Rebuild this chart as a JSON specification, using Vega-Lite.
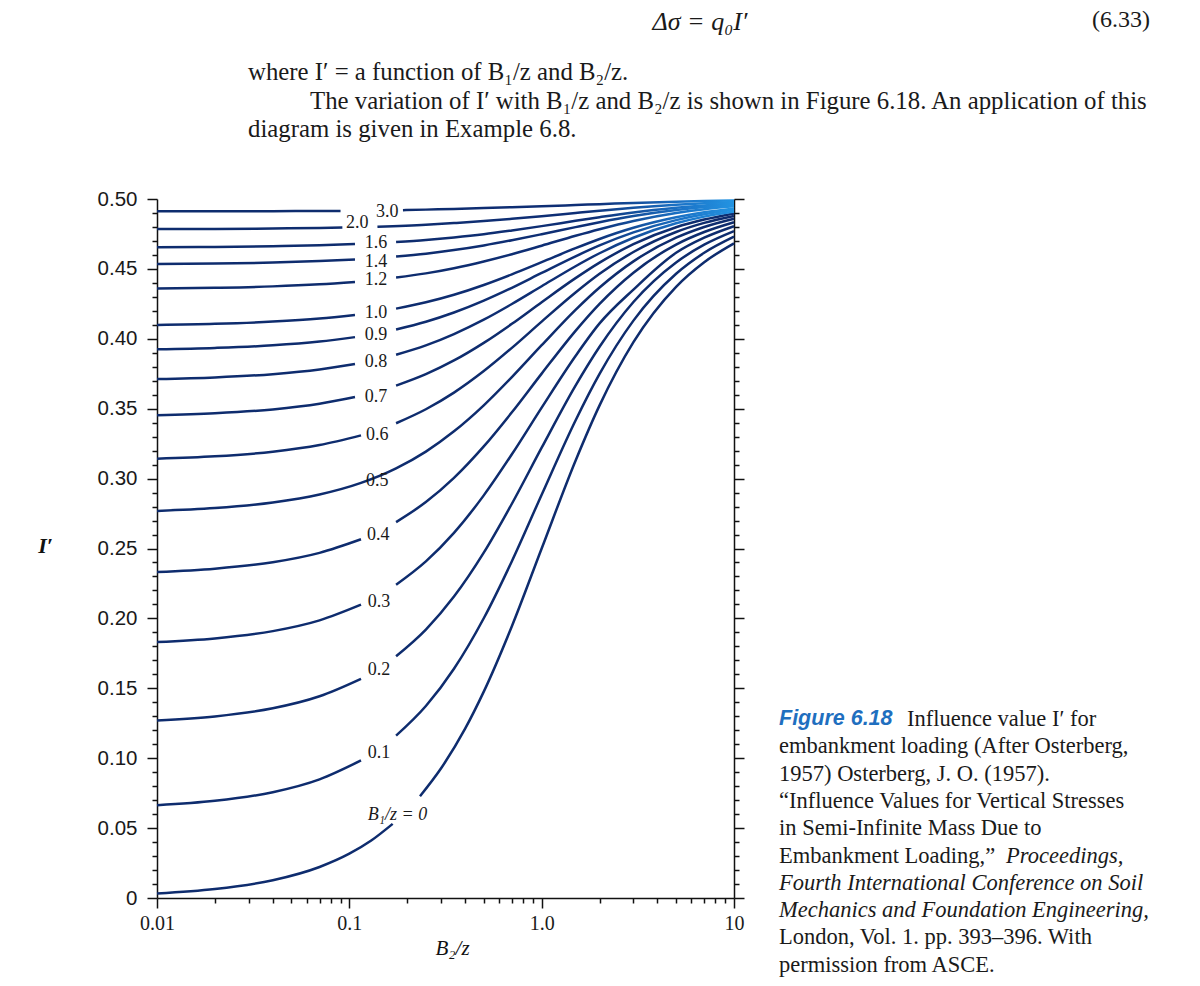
{
  "$schema": "https://vega.github.io/schema/vega-lite/v6.json",
  "width": 577,
  "height": 699,
  "autosize": {"type": "none"},
  "padding": {"left": 157, "top": 199, "right": 466, "bottom": 88},
  "background": "white",
  "config": {"view": {"stroke": null}, "axis": {"grid": false}},
  "datasets": {
    "curves": [
      {"b":"0","seg":"L","c":0.01,"I":0.0032},{"b":"0","seg":"L","c":0.02,"I":0.0064},{"b":"0","seg":"L","c":0.04,"I":0.0127},{"b":"0","seg":"L","c":0.07,"I":0.0222},{"b":"0","seg":"L","c":0.1,"I":0.0317},{"b":"0","seg":"L","c":0.13,"I":0.0411},{"b":"0","seg":"L","c":0.168,"I":0.0530},
      {"b":"0","seg":"R","c":0.233,"I":0.0728},{"b":"0","seg":"R","c":0.3,"I":0.0928},{"b":"0","seg":"R","c":0.4,"I":0.1211},{"b":"0","seg":"R","c":0.5,"I":0.1476},{"b":"0","seg":"R","c":0.7,"I":0.1944},{"b":"0","seg":"R","c":1,"I":0.25},{"b":"0","seg":"R","c":1.5,"I":0.3128},{"b":"0","seg":"R","c":2,"I":0.3524},{"b":"0","seg":"R","c":3,"I":0.3976},{"b":"0","seg":"R","c":5,"I":0.4372},{"b":"0","seg":"R","c":7,"I":0.4548},{"b":"0","seg":"R","c":10,"I":0.4683},

      {"b":"0.1","seg":"L","c":0.01,"I":0.0664},{"b":"0.1","seg":"L","c":0.02,"I":0.0695},{"b":"0.1","seg":"L","c":0.04,"I":0.0757},{"b":"0.1","seg":"L","c":0.07,"I":0.0849},{"b":"0.1","seg":"L","c":0.115,"I":0.0984},
      {"b":"0.1","seg":"R","c":0.175,"I":0.1161},{"b":"0.1","seg":"R","c":0.25,"I":0.1373},{"b":"0.1","seg":"R","c":0.35,"I":0.1640},{"b":"0.1","seg":"R","c":0.5,"I":0.2001},{"b":"0.1","seg":"R","c":0.7,"I":0.2409},{"b":"0.1","seg":"R","c":1,"I":0.2885},{"b":"0.1","seg":"R","c":1.5,"I":0.3416},{"b":"0.1","seg":"R","c":2,"I":0.3749},{"b":"0.1","seg":"R","c":3,"I":0.4130},{"b":"0.1","seg":"R","c":5,"I":0.4465},{"b":"0.1","seg":"R","c":7,"I":0.4615},{"b":"0.1","seg":"R","c":10,"I":0.4730},

      {"b":"0.2","seg":"L","c":0.01,"I":0.1270},{"b":"0.2","seg":"L","c":0.02,"I":0.1299},{"b":"0.2","seg":"L","c":0.04,"I":0.1357},{"b":"0.2","seg":"L","c":0.07,"I":0.1443},{"b":"0.2","seg":"L","c":0.115,"I":0.1568},
      {"b":"0.2","seg":"R","c":0.175,"I":0.1729},{"b":"0.2","seg":"R","c":0.25,"I":0.1920},{"b":"0.2","seg":"R","c":0.35,"I":0.2156},{"b":"0.2","seg":"R","c":0.5,"I":0.2470},{"b":"0.2","seg":"R","c":0.7,"I":0.2820},{"b":"0.2","seg":"R","c":1,"I":0.3221},{"b":"0.2","seg":"R","c":1.5,"I":0.3665},{"b":"0.2","seg":"R","c":2,"I":0.3943},{"b":"0.2","seg":"R","c":3,"I":0.4263},{"b":"0.2","seg":"R","c":5,"I":0.4546},{"b":"0.2","seg":"R","c":7,"I":0.4673},{"b":"0.2","seg":"R","c":10,"I":0.4770},

      {"b":"0.3","seg":"L","c":0.01,"I":0.1831},{"b":"0.3","seg":"L","c":0.02,"I":0.1857},{"b":"0.3","seg":"L","c":0.04,"I":0.1909},{"b":"0.3","seg":"L","c":0.07,"I":0.1986},{"b":"0.3","seg":"L","c":0.115,"I":0.2098},
      {"b":"0.3","seg":"R","c":0.175,"I":0.2241},{"b":"0.3","seg":"R","c":0.25,"I":0.2408},{"b":"0.3","seg":"R","c":0.35,"I":0.2612},{"b":"0.3","seg":"R","c":0.5,"I":0.2880},{"b":"0.3","seg":"R","c":0.7,"I":0.3174},{"b":"0.3","seg":"R","c":1,"I":0.3508},{"b":"0.3","seg":"R","c":1.5,"I":0.3877},{"b":"0.3","seg":"R","c":2,"I":0.4110},{"b":"0.3","seg":"R","c":3,"I":0.4352},{"b":"0.3","seg":"R","c":5,"I":0.4615},{"b":"0.3","seg":"R","c":7,"I":0.4723},{"b":"0.3","seg":"R","c":10,"I":0.4805},

      {"b":"0.4","seg":"L","c":0.01,"I":0.2332},{"b":"0.4","seg":"L","c":0.02,"I":0.2356},{"b":"0.4","seg":"L","c":0.04,"I":0.2402},{"b":"0.4","seg":"L","c":0.07,"I":0.2469},{"b":"0.4","seg":"L","c":0.115,"I":0.2566},
      {"b":"0.4","seg":"R","c":0.175,"I":0.2689},{"b":"0.4","seg":"R","c":0.25,"I":0.2832},{"b":"0.4","seg":"R","c":0.35,"I":0.3005},{"b":"0.4","seg":"R","c":0.5,"I":0.3230},{"b":"0.4","seg":"R","c":0.7,"I":0.3474},{"b":"0.4","seg":"R","c":1,"I":0.3751},{"b":"0.4","seg":"R","c":1.5,"I":0.4057},{"b":"0.4","seg":"R","c":2,"I":0.4250},{"b":"0.4","seg":"R","c":3,"I":0.4473},{"b":"0.4","seg":"R","c":5,"I":0.4674},{"b":"0.4","seg":"R","c":7,"I":0.4764},{"b":"0.4","seg":"R","c":10,"I":0.4834},

      {"b":"0.5","seg":"A","c":0.01,"I":0.2769},{"b":"0.5","seg":"A","c":0.02,"I":0.2789},{"b":"0.5","seg":"A","c":0.04,"I":0.2829},{"b":"0.5","seg":"A","c":0.07,"I":0.2886},{"b":"0.5","seg":"A","c":0.115,"I":0.2969},{"b":"0.5","seg":"A","c":0.175,"I":0.3073},{"b":"0.5","seg":"A","c":0.25,"I":0.3193},{"b":"0.5","seg":"A","c":0.35,"I":0.3338},{"b":"0.5","seg":"A","c":0.5,"I":0.3524},{"b":"0.5","seg":"A","c":0.7,"I":0.3726},{"b":"0.5","seg":"A","c":1,"I":0.3954},{"b":"0.5","seg":"A","c":1.5,"I":0.4207},{"b":"0.5","seg":"A","c":2,"I":0.4367},{"b":"0.5","seg":"A","c":3,"I":0.4554},{"b":"0.5","seg":"A","c":5,"I":0.4723},{"b":"0.5","seg":"A","c":7,"I":0.4800},{"b":"0.5","seg":"A","c":10,"I":0.4859},

      {"b":"0.6","seg":"L","c":0.01,"I":0.3142},{"b":"0.6","seg":"L","c":0.02,"I":0.3159},{"b":"0.6","seg":"L","c":0.04,"I":0.3192},{"b":"0.6","seg":"L","c":0.07,"I":0.3240},{"b":"0.6","seg":"L","c":0.115,"I":0.3309},
      {"b":"0.6","seg":"R","c":0.175,"I":0.3396},{"b":"0.6","seg":"R","c":0.25,"I":0.3496},{"b":"0.6","seg":"R","c":0.35,"I":0.3615},{"b":"0.6","seg":"R","c":0.5,"I":0.3769},{"b":"0.6","seg":"R","c":0.7,"I":0.3935},{"b":"0.6","seg":"R","c":1,"I":0.4123},{"b":"0.6","seg":"R","c":1.5,"I":0.4331},{"b":"0.6","seg":"R","c":2,"I":0.4465},{"b":"0.6","seg":"R","c":3,"I":0.4621},{"b":"0.6","seg":"R","c":5,"I":0.4764},{"b":"0.6","seg":"R","c":7,"I":0.4829},{"b":"0.6","seg":"R","c":10,"I":0.4879},

      {"b":"0.7","seg":"L","c":0.01,"I":0.3454},{"b":"0.7","seg":"L","c":0.02,"I":0.3468},{"b":"0.7","seg":"L","c":0.04,"I":0.3495},{"b":"0.7","seg":"L","c":0.07,"I":0.3535},{"b":"0.7","seg":"L","c":0.107,"I":0.3583},
      {"b":"0.7","seg":"R","c":0.175,"I":0.3665},{"b":"0.7","seg":"R","c":0.25,"I":0.3747},{"b":"0.7","seg":"R","c":0.35,"I":0.3845},{"b":"0.7","seg":"R","c":0.5,"I":0.3971},{"b":"0.7","seg":"R","c":0.7,"I":0.4107},{"b":"0.7","seg":"R","c":1,"I":0.4262},{"b":"0.7","seg":"R","c":1.5,"I":0.4434},{"b":"0.7","seg":"R","c":2,"I":0.4545},{"b":"0.7","seg":"R","c":3,"I":0.4677},{"b":"0.7","seg":"R","c":5,"I":0.4798},{"b":"0.7","seg":"R","c":7,"I":0.4853},{"b":"0.7","seg":"R","c":10,"I":0.4897},

      {"b":"0.8","seg":"L","c":0.01,"I":0.3712},{"b":"0.8","seg":"L","c":0.02,"I":0.3724},{"b":"0.8","seg":"L","c":0.04,"I":0.3747},{"b":"0.8","seg":"L","c":0.07,"I":0.3780},{"b":"0.8","seg":"L","c":0.107,"I":0.3819},
      {"b":"0.8","seg":"R","c":0.175,"I":0.3886},{"b":"0.8","seg":"R","c":0.25,"I":0.3953},{"b":"0.8","seg":"R","c":0.35,"I":0.4034},{"b":"0.8","seg":"R","c":0.5,"I":0.4137},{"b":"0.8","seg":"R","c":0.7,"I":0.4249},{"b":"0.8","seg":"R","c":1,"I":0.4376},{"b":"0.8","seg":"R","c":1.5,"I":0.4519},{"b":"0.8","seg":"R","c":2,"I":0.4612},{"b":"0.8","seg":"R","c":3,"I":0.4723},{"b":"0.8","seg":"R","c":5,"I":0.4826},{"b":"0.8","seg":"R","c":7,"I":0.4874},{"b":"0.8","seg":"R","c":10,"I":0.4911},

      {"b":"0.9","seg":"L","c":0.01,"I":0.3925},{"b":"0.9","seg":"L","c":0.02,"I":0.3935},{"b":"0.9","seg":"L","c":0.04,"I":0.3953},{"b":"0.9","seg":"L","c":0.07,"I":0.3980},{"b":"0.9","seg":"L","c":0.107,"I":0.4012},
      {"b":"0.9","seg":"R","c":0.175,"I":0.4067},{"b":"0.9","seg":"R","c":0.25,"I":0.4122},{"b":"0.9","seg":"R","c":0.35,"I":0.4188},{"b":"0.9","seg":"R","c":0.5,"I":0.4273},{"b":"0.9","seg":"R","c":0.7,"I":0.4365},{"b":"0.9","seg":"R","c":1,"I":0.4471},{"b":"0.9","seg":"R","c":1.5,"I":0.4590},{"b":"0.9","seg":"R","c":2,"I":0.4668},{"b":"0.9","seg":"R","c":3,"I":0.4761},{"b":"0.9","seg":"R","c":5,"I":0.4849},{"b":"0.9","seg":"R","c":7,"I":0.4891},{"b":"0.9","seg":"R","c":10,"I":0.4923},

      {"b":"1.0","seg":"L","c":0.01,"I":0.4099},{"b":"1.0","seg":"L","c":0.02,"I":0.4107},{"b":"1.0","seg":"L","c":0.04,"I":0.4123},{"b":"1.0","seg":"L","c":0.07,"I":0.4145},{"b":"1.0","seg":"L","c":0.107,"I":0.4171},
      {"b":"1.0","seg":"R","c":0.175,"I":0.4216},{"b":"1.0","seg":"R","c":0.25,"I":0.4261},{"b":"1.0","seg":"R","c":0.35,"I":0.4315},{"b":"1.0","seg":"R","c":0.5,"I":0.4385},{"b":"1.0","seg":"R","c":0.7,"I":0.4461},{"b":"1.0","seg":"R","c":1,"I":0.4548},{"b":"1.0","seg":"R","c":1.5,"I":0.4648},{"b":"1.0","seg":"R","c":2,"I":0.4714},{"b":"1.0","seg":"R","c":3,"I":0.4794},{"b":"1.0","seg":"R","c":5,"I":0.4869},{"b":"1.0","seg":"R","c":7,"I":0.4905},{"b":"1.0","seg":"R","c":10,"I":0.4933},

      {"b":"1.2","seg":"L","c":0.01,"I":0.4359},{"b":"1.2","seg":"L","c":0.02,"I":0.4365},{"b":"1.2","seg":"L","c":0.04,"I":0.4375},{"b":"1.2","seg":"L","c":0.07,"I":0.4390},{"b":"1.2","seg":"L","c":0.107,"I":0.4407},
      {"b":"1.2","seg":"R","c":0.175,"I":0.4438},{"b":"1.2","seg":"R","c":0.25,"I":0.4468},{"b":"1.2","seg":"R","c":0.35,"I":0.4505},{"b":"1.2","seg":"R","c":0.5,"I":0.4553},{"b":"1.2","seg":"R","c":0.7,"I":0.4605},{"b":"1.2","seg":"R","c":1,"I":0.4666},{"b":"1.2","seg":"R","c":1.5,"I":0.4737},{"b":"1.2","seg":"R","c":2,"I":0.4784},{"b":"1.2","seg":"R","c":3,"I":0.4843},{"b":"1.2","seg":"R","c":5,"I":0.4900},{"b":"1.2","seg":"R","c":7,"I":0.4927},{"b":"1.2","seg":"R","c":10,"I":0.4948},

      {"b":"1.4","seg":"L","c":0.01,"I":0.4535},{"b":"1.4","seg":"L","c":0.02,"I":0.4538},{"b":"1.4","seg":"L","c":0.04,"I":0.4545},{"b":"1.4","seg":"L","c":0.07,"I":0.4556},{"b":"1.4","seg":"L","c":0.107,"I":0.4567},
      {"b":"1.4","seg":"R","c":0.175,"I":0.4588},{"b":"1.4","seg":"R","c":0.25,"I":0.4609},{"b":"1.4","seg":"R","c":0.35,"I":0.4635},{"b":"1.4","seg":"R","c":0.5,"I":0.4668},{"b":"1.4","seg":"R","c":0.7,"I":0.4705},{"b":"1.4","seg":"R","c":1,"I":0.4748},{"b":"1.4","seg":"R","c":1.5,"I":0.4799},{"b":"1.4","seg":"R","c":2,"I":0.4834},{"b":"1.4","seg":"R","c":3,"I":0.4878},{"b":"1.4","seg":"R","c":5,"I":0.4921},{"b":"1.4","seg":"R","c":7,"I":0.4942},{"b":"1.4","seg":"R","c":10,"I":0.4959},

      {"b":"1.6","seg":"L","c":0.01,"I":0.4655},{"b":"1.6","seg":"L","c":0.02,"I":0.4657},{"b":"1.6","seg":"L","c":0.04,"I":0.4662},{"b":"1.6","seg":"L","c":0.07,"I":0.4669},{"b":"1.6","seg":"L","c":0.107,"I":0.4678},
      {"b":"1.6","seg":"R","c":0.175,"I":0.4692},{"b":"1.6","seg":"R","c":0.25,"I":0.4707},{"b":"1.6","seg":"R","c":0.35,"I":0.4725},{"b":"1.6","seg":"R","c":0.5,"I":0.4748},{"b":"1.6","seg":"R","c":0.7,"I":0.4775},{"b":"1.6","seg":"R","c":1,"I":0.4806},{"b":"1.6","seg":"R","c":1.5,"I":0.4844},{"b":"1.6","seg":"R","c":2,"I":0.4870},{"b":"1.6","seg":"R","c":3,"I":0.4904},{"b":"1.6","seg":"R","c":5,"I":0.4937},{"b":"1.6","seg":"R","c":7,"I":0.4954},{"b":"1.6","seg":"R","c":10,"I":0.4967},

      {"b":"2.0","seg":"L","c":0.01,"I":0.4785},{"b":"2.0","seg":"L","c":0.02,"I":0.4786},{"b":"2.0","seg":"L","c":0.04,"I":0.4789},{"b":"2.0","seg":"L","c":0.07,"I":0.4793},{"b":"2.0","seg":"L","c":0.092,"I":0.4796},
      {"b":"2.0","seg":"R","c":0.14,"I":0.4802},{"b":"2.0","seg":"R","c":0.25,"I":0.4816},{"b":"2.0","seg":"R","c":0.35,"I":0.4828},{"b":"2.0","seg":"R","c":0.5,"I":0.4842},{"b":"2.0","seg":"R","c":0.7,"I":0.4858},{"b":"2.0","seg":"R","c":1,"I":0.4877},{"b":"2.0","seg":"R","c":1.5,"I":0.4900},{"b":"2.0","seg":"R","c":2,"I":0.4916},{"b":"2.0","seg":"R","c":3,"I":0.4937},{"b":"2.0","seg":"R","c":5,"I":0.4958},{"b":"2.0","seg":"R","c":7,"I":0.4969},{"b":"2.0","seg":"R","c":10,"I":0.4978},

      {"b":"3.0","seg":"L","c":0.01,"I":0.4912},{"b":"3.0","seg":"L","c":0.02,"I":0.4912},{"b":"3.0","seg":"L","c":0.04,"I":0.4913},{"b":"3.0","seg":"L","c":0.07,"I":0.4914},{"b":"3.0","seg":"L","c":0.09,"I":0.4915},
      {"b":"3.0","seg":"R","c":0.19,"I":0.4920},{"b":"3.0","seg":"R","c":0.25,"I":0.4924},{"b":"3.0","seg":"R","c":0.35,"I":0.4929},{"b":"3.0","seg":"R","c":0.5,"I":0.4935},{"b":"3.0","seg":"R","c":0.7,"I":0.4941},{"b":"3.0","seg":"R","c":1,"I":0.4948},{"b":"3.0","seg":"R","c":1.5,"I":0.4957},{"b":"3.0","seg":"R","c":2,"I":0.4963},{"b":"3.0","seg":"R","c":3,"I":0.4972},{"b":"3.0","seg":"R","c":5,"I":0.4981},{"b":"3.0","seg":"R","c":7,"I":0.4986},{"b":"3.0","seg":"R","c":10,"I":0.4990}
    ],
    "labels": [
      {"text":"3.0","c":0.1576,"I":0.4909},
      {"text":"2.0","c":0.1100,"I":0.4826},
      {"text":"1.6","c":0.1376,"I":0.4683},
      {"text":"1.4","c":0.1376,"I":0.4552},
      {"text":"1.2","c":0.1376,"I":0.4421},
      {"text":"1.0","c":0.1376,"I":0.4187},
      {"text":"0.9","c":0.1376,"I":0.4027},
      {"text":"0.8","c":0.1376,"I":0.3836},
      {"text":"0.7","c":0.1376,"I":0.3582},
      {"text":"0.6","c":0.1398,"I":0.3312},
      {"text":"0.5","c":0.1398,"I":0.2983},
      {"text":"0.4","c":0.1415,"I":0.2597},
      {"text":"0.3","c":0.1427,"I":0.2115},
      {"text":"0.2","c":0.1427,"I":0.1631},
      {"text":"0.1","c":0.1427,"I":0.1039}
    ],
    "label0": [{"text":"B₁/z = 0","c":0.178,"I":0.0594}],
    "eq": [{"text":"Δσ = q₀I′","c":6.656,"I":0.6266}],
    "eqno": [{"text":"(6.33)","c":1455.5,"I":0.628}],
    "body": [
      {"text":"where I′ = a function of B₁/z and B₂/z.","c":0.02973,"I":0.5901},
      {"text":"The variation of I′ with B₁/z and B₂/z is shown in Figure 6.18. An application of this","c":0.06244,"I":0.5694},
      {"text":"diagram is given in Example 6.8.","c":0.02973,"I":0.5494}
    ],
    "capFig": [{"text":"Figure 6.18","c":17.14,"I":0.1280}],
    "cap": [
      {"text":"Influence value I′ for","c":79.35,"I":0.1280},
      {"text":"embankment loading (After Osterberg,","c":17.14,"I":0.1085},
      {"text":"1957) Osterberg, J. O. (1957).","c":17.14,"I":0.0890},
      {"text":"“Influence Values for Vertical Stresses","c":17.14,"I":0.0695},
      {"text":"in Semi-Infinite Mass Due to","c":17.14,"I":0.0499},
      {"text":"Embankment Loading,”","c":17.14,"I":0.0304},
      {"text":"London, Vol. 1. pp. 393–396. With","c":17.14,"I":-0.0282},
      {"text":"permission from ASCE.","c":17.14,"I":-0.0477}
    ],
    "capItalic": [
      {"text":"Proceedings,","c":259.6,"I":0.0304},
      {"text":"Fourth International Conference on Soil","c":17.14,"I":0.0109},
      {"text":"Mechanics and Foundation Engineering,","c":17.14,"I":-0.0087}
    ]
  },
  "resolve": {"axis": {"y": "independent"}},
  "layer": [
    {
      "data": {"name": "curves"},
      "transform": [{"filter": "!(datum.seg == 'R' && toNumber(datum.b) >= 0.8)"}],
      "mark": {"type": "line", "interpolate": "monotone", "color": "#0e2c6e", "strokeWidth": 2.5},
      "encoding": {
        "x": {
          "field": "c", "type": "quantitative",
          "scale": {"type": "log", "domain": [0.01, 10], "nice": false},
          "axis": {
            "orient": "bottom",
            "values": [0.01,0.02,0.03,0.04,0.05,0.06,0.07,0.08,0.09,0.1,0.2,0.3,0.4,0.5,0.6,0.7,0.8,0.9,1,2,3,4,5,6,7,8,9,10],
            "labelExpr": "abs(datum.value-0.01)<1e-9 ? '0.01' : abs(datum.value-0.1)<1e-9 ? '0.1' : abs(datum.value-1)<1e-9 ? '1.0' : abs(datum.value-10)<1e-9 ? '10' : ''",
            "labelOverlap": false, "labelFlush": false,
            "labelFont": "Liberation Serif", "labelFontSize": 20, "labelColor": "#1a1a1a", "labelPadding": 5,
            "tickSize": {"condition": {"test": "abs(log(datum.value)/LN10 - round(log(datum.value)/LN10)) < 1e-6", "value": 10}, "value": 5},
            "tickColor": "#111", "tickWidth": 1.5, "domainColor": "#111", "domainWidth": 1.5,
            "title": "B₂/z", "titleFont": "Liberation Serif", "titleFontStyle": "italic", "titleFontWeight": "normal", "titleFontSize": 21, "titleColor": "#111",
            "titleX": 295, "titleY": 50, "titleAlign": "center", "titleBaseline": "middle"
          }
        },
        "y": {
          "field": "I", "type": "quantitative",
          "scale": {"domain": [0, 0.5], "nice": false, "zero": false},
          "axis": {
            "orient": "left",
            "values": [0,0.01,0.02,0.03,0.04,0.05,0.06,0.07,0.08,0.09,0.1,0.11,0.12,0.13,0.14,0.15,0.16,0.17,0.18,0.19,0.2,0.21,0.22,0.23,0.24,0.25,0.26,0.27,0.28,0.29,0.3,0.31,0.32,0.33,0.34,0.35,0.36,0.37,0.38,0.39,0.4,0.41,0.42,0.43,0.44,0.45,0.46,0.47,0.48,0.49,0.5],
            "labelExpr": "abs(datum.value*20-round(datum.value*20))<1e-6 ? (datum.value<1e-9 ? '0' : format(datum.value,'.2f')) : ''",
            "labelOverlap": false, "labelFlush": false,
            "labelFont": "Liberation Sans", "labelFontSize": 20.5, "labelColor": "#1a1a1a", "labelPadding": 10,
            "tickSize": {"condition": {"test": "abs(datum.value*20-round(datum.value*20))<1e-6", "value": 10}, "value": 5},
            "tickColor": "#111", "tickWidth": 1.5, "domainColor": "#111", "domainWidth": 1.5,
            "title": "I′", "titleFont": "Liberation Serif", "titleFontStyle": "italic", "titleFontWeight": "bold", "titleFontSize": 22, "titleColor": "#111",
            "titleAngle": 0, "titleX": -112, "titleY": 346, "titleAlign": "center", "titleBaseline": "middle"
          }
        },
        "detail": [{"field": "b"}, {"field": "seg"}]
      }
    },
    {
      "data": {"name": "curves"},
      "transform": [{"filter": "datum.seg == 'R' && toNumber(datum.b) >= 0.8"}],
      "mark": {
        "type": "line", "interpolate": "monotone", "strokeWidth": 2.5,
        "color": {"gradient": "linear", "x1": 0, "y1": 0, "x2": 1, "y2": 0,
          "stops": [{"offset": 0, "color": "#0e2c6e"}, {"offset": 0.58, "color": "#0e2f76"}, {"offset": 0.85, "color": "#1b74c8"}, {"offset": 1, "color": "#2394e2"}]}
      },
      "encoding": {
        "x": {"field": "c", "type": "quantitative", "scale": {"type": "log", "domain": [0.01, 10], "nice": false}},
        "y": {
          "field": "I", "type": "quantitative",
          "scale": {"domain": [0, 0.5], "nice": false, "zero": false},
          "axis": {
            "orient": "right",
            "values": [0,0.01,0.02,0.03,0.04,0.05,0.06,0.07,0.08,0.09,0.1,0.11,0.12,0.13,0.14,0.15,0.16,0.17,0.18,0.19,0.2,0.21,0.22,0.23,0.24,0.25,0.26,0.27,0.28,0.29,0.3,0.31,0.32,0.33,0.34,0.35,0.36,0.37,0.38,0.39,0.4,0.41,0.42,0.43,0.44,0.45,0.46,0.47,0.48,0.49,0.5],
            "labels": false, "title": null,
            "tickSize": {"condition": {"test": "abs(datum.value*20-round(datum.value*20))<1e-6", "value": 10}, "value": 5},
            "tickColor": "#111", "tickWidth": 1.5, "domainColor": "#111", "domainWidth": 1.5
          }
        },
        "detail": [{"field": "b"}, {"field": "seg"}]
      }
    },
    {
      "data": {"name": "labels"},
      "mark": {"type": "text", "font": "Liberation Serif", "fontSize": 18, "color": "#1a1a1a", "align": "center", "baseline": "middle"},
      "encoding": {
        "x": {"field": "c", "type": "quantitative", "scale": {"type": "log", "domain": [0.01, 10], "nice": false}},
        "y": {"field": "I", "type": "quantitative", "scale": {"domain": [0, 0.5], "nice": false, "zero": false}, "axis": null},
        "text": {"field": "text"}
      }
    },
    {
      "data": {"name": "label0"},
      "mark": {"type": "text", "font": "Liberation Serif", "fontSize": 18, "fontStyle": "italic", "color": "#1a1a1a", "align": "center", "baseline": "middle"},
      "encoding": {
        "x": {"field": "c", "type": "quantitative", "scale": {"type": "log", "domain": [0.01, 10], "nice": false}},
        "y": {"field": "I", "type": "quantitative", "scale": {"domain": [0, 0.5], "nice": false, "zero": false}, "axis": null},
        "text": {"field": "text"}
      }
    },
    {
      "data": {"name": "eq"},
      "mark": {"type": "text", "font": "Liberation Serif", "fontSize": 26, "fontStyle": "italic", "color": "#1a1a1a", "align": "center", "baseline": "middle"},
      "encoding": {
        "x": {"field": "c", "type": "quantitative", "scale": {"type": "log", "domain": [0.01, 10], "nice": false}},
        "y": {"field": "I", "type": "quantitative", "scale": {"domain": [0, 0.5], "nice": false, "zero": false}, "axis": null},
        "text": {"field": "text"}
      }
    },
    {
      "data": {"name": "eqno"},
      "mark": {"type": "text", "font": "Liberation Serif", "fontSize": 24, "color": "#1a1a1a", "align": "right", "baseline": "middle"},
      "encoding": {
        "x": {"field": "c", "type": "quantitative", "scale": {"type": "log", "domain": [0.01, 10], "nice": false}},
        "y": {"field": "I", "type": "quantitative", "scale": {"domain": [0, 0.5], "nice": false, "zero": false}, "axis": null},
        "text": {"field": "text"}
      }
    },
    {
      "data": {"name": "body"},
      "mark": {"type": "text", "font": "Liberation Serif", "fontSize": 24.8, "color": "#1a1a1a", "align": "left", "baseline": "middle"},
      "encoding": {
        "x": {"field": "c", "type": "quantitative", "scale": {"type": "log", "domain": [0.01, 10], "nice": false}},
        "y": {"field": "I", "type": "quantitative", "scale": {"domain": [0, 0.5], "nice": false, "zero": false}, "axis": null},
        "text": {"field": "text"}
      }
    },
    {
      "data": {"name": "capFig"},
      "mark": {"type": "text", "font": "Liberation Sans", "fontSize": 21.5, "fontStyle": "italic", "fontWeight": "bold", "color": "#1f6fbf", "align": "left", "baseline": "middle"},
      "encoding": {
        "x": {"field": "c", "type": "quantitative", "scale": {"type": "log", "domain": [0.01, 10], "nice": false}},
        "y": {"field": "I", "type": "quantitative", "scale": {"domain": [0, 0.5], "nice": false, "zero": false}, "axis": null},
        "text": {"field": "text"}
      }
    },
    {
      "data": {"name": "cap"},
      "mark": {"type": "text", "font": "Liberation Serif", "fontSize": 22.5, "color": "#1a1a1a", "align": "left", "baseline": "middle"},
      "encoding": {
        "x": {"field": "c", "type": "quantitative", "scale": {"type": "log", "domain": [0.01, 10], "nice": false}},
        "y": {"field": "I", "type": "quantitative", "scale": {"domain": [0, 0.5], "nice": false, "zero": false}, "axis": null},
        "text": {"field": "text"}
      }
    },
    {
      "data": {"name": "capItalic"},
      "mark": {"type": "text", "font": "Liberation Serif", "fontSize": 22.5, "fontStyle": "italic", "color": "#1a1a1a", "align": "left", "baseline": "middle"},
      "encoding": {
        "x": {"field": "c", "type": "quantitative", "scale": {"type": "log", "domain": [0.01, 10], "nice": false}},
        "y": {"field": "I", "type": "quantitative", "scale": {"domain": [0, 0.5], "nice": false, "zero": false}, "axis": null},
        "text": {"field": "text"}
      }
    }
  ]
}
